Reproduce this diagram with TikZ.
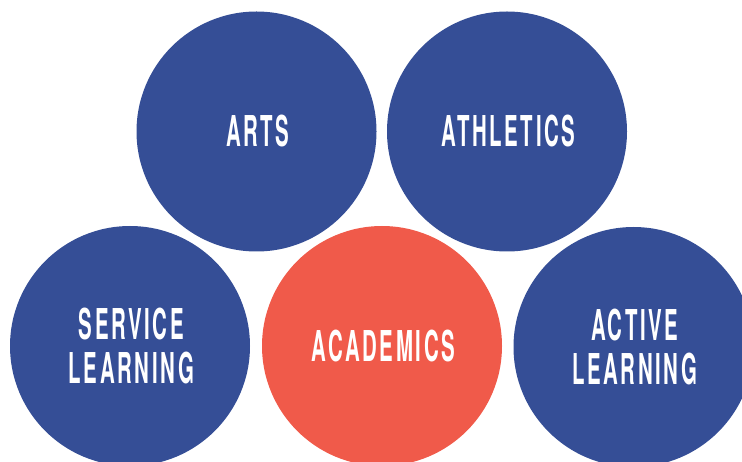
\documentclass[tikz,border=0pt]{standalone}
\usepackage{fontspec}
\newfontfamily\condfont[LetterSpace=13]{TeX Gyre Heros}
\definecolor{pblue}{RGB}{53,78,150}
\definecolor{pred}{RGB}{240,90,74}
\begin{document}
\begin{tikzpicture}[x=1pt,y=-1pt,
  disc/.style={circle,minimum size=240pt,inner sep=0pt,draw=none},
  lab/.style={text=white,align=center,xshift=1.3pt,xscale=0.48,transform shape,inner sep=0pt,
    font=\condfont\bfseries\fontsize{42.5}{44}\selectfont}]
\useasboundingbox (0,0) rectangle (742,462);
\clip (0,0) rectangle (742,462);
\node[disc,fill=pblue] (arts) at (256.5,131.5) {};
\node[disc,fill=pblue] (athletics) at (507,131.5) {};
\node[disc,fill=pblue] (service) at (130,346) {};
\node[disc,fill=pred] (academics) at (382,346) {};
\node[disc,fill=pblue] (active) at (633.5,347) {};
\node[lab] (artsl) at (arts.center) {ARTS};
\node[lab] (athleticsl) at (athletics.center) {ATHLETICS};
\node[lab] (servicel) at (service.center) {SERVICE\\LEARNING};
\node[lab] (academicsl) at (academics.center) {ACADEMICS};
\node[lab] (activel) at (active.center) {ACTIVE\\LEARNING};
\end{tikzpicture}
\end{document}
